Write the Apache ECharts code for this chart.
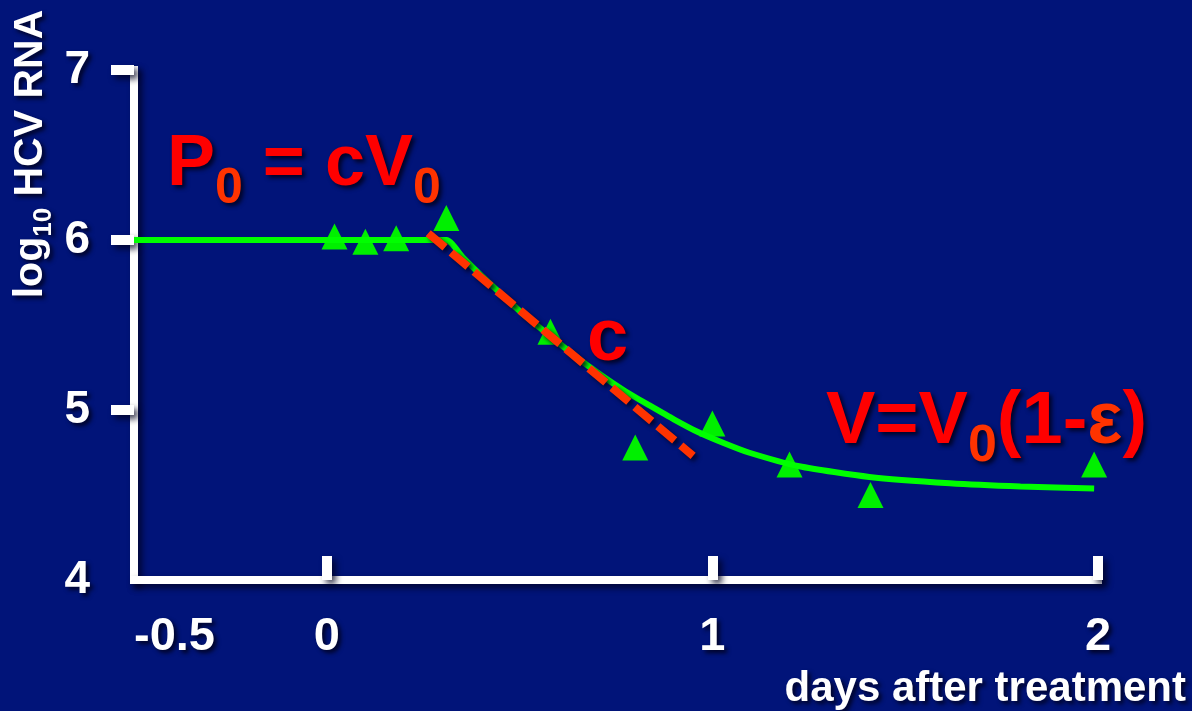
<!DOCTYPE html>
<html>
<head>
<meta charset="utf-8">
<script src="https://cdn.jsdelivr.net/npm/echarts@6/dist/echarts.min.js"></script>
<style>
  html, body { margin: 0; padding: 0; background: #011479; }
  #chart { width: 1192px; height: 711px; }
</style>
</head>
<body>
<div id="chart"></div>
<script>
// Measured viral load (log10 HCV RNA) against days after treatment start
const obsDays = [0.02, 0.10, 0.18, 0.31, 0.58, 0.80, 1.00, 1.20, 1.41, 1.99];
const obsLogV = [6.02, 5.99, 6.01, 6.13, 5.46, 4.78, 4.92, 4.68, 4.50, 4.68];

// Fitted model curve
const fitDays = [-0.5, 0.31, 0.352, 0.403, 0.454, 0.505, 0.577, 0.645, 0.709, 0.773, 0.837, 0.901, 0.964, 1.029, 1.094, 1.225, 1.407, 1.616, 1.799, 1.99];
const fitLogV = [6.00, 6.00, 5.90, 5.786, 5.679, 5.572, 5.439, 5.316, 5.209, 5.112, 5.027, 4.944, 4.869, 4.806, 4.75, 4.669, 4.606, 4.569, 4.55, 4.538];

// Initial first-phase decline (slope = clearance rate c)
const slopeDays = [0.263, 0.95];
const slopeLogV = [6.04, 4.73];

// Axis ticks and labels
const xLabelValues = [-0.5, 0, 1, 2];
const xTickValues = [0, 1, 2];
const yLabelValues = [4, 5, 6, 7];
const yTickValues = [5, 6, 7];

const FONT = "'Liberation Sans', Arial, Helvetica, sans-serif";
const RED = '#ff0000';
const ORANGE = '#ff3300';
const SHADOW = 'rgba(0, 0, 25, 0.85)';

const textShadow = {
  textShadowColor: SHADOW,
  textShadowBlur: 4,
  textShadowOffsetX: 3,
  textShadowOffsetY: 3
};
const lineShadow = {
  shadowColor: 'rgba(0, 0, 30, 0.75)',
  shadowBlur: 6,
  shadowOffsetX: 4,
  shadowOffsetY: 4
};

function richStyle(size, lineHeight, fill, extra) {
  return Object.assign({
    fontSize: size,
    lineHeight: lineHeight,
    fontWeight: 'bold',
    fontFamily: FONT,
    fill: fill
  }, textShadow, extra || {});
}

const chart = echarts.init(document.getElementById('chart'), null, { renderer: 'canvas' });

chart.setOption({
  backgroundColor: '#011479',
  animation: false,
  grid: { left: 134, right: 94, top: 70, bottom: 131, containLabel: false },
  xAxis: {
    type: 'value',
    min: -0.5,
    max: 2,
    interval: 0.5,
    z: 3,
    splitLine: { show: false },
    axisLine: {
      show: true,
      onZero: false,
      lineStyle: Object.assign({ color: '#ffffff', width: 8, cap: 'square' }, lineShadow)
    },
    axisTick: {
      show: true,
      inside: true,
      length: 24,
      customValues: xTickValues,
      lineStyle: Object.assign({ color: '#ffffff', width: 10 }, lineShadow)
    },
    axisLabel: Object.assign({
      customValues: xLabelValues,
      alignMinLabel: 'left',
      color: '#ffffff',
      fontSize: 47,
      fontWeight: 'bold',
      fontFamily: FONT,
      margin: 34,
      formatter: v => String(v)
    }, textShadow)
  },
  yAxis: {
    type: 'value',
    min: 4,
    max: 7,
    interval: 1,
    z: 3,
    splitLine: { show: false },
    axisLine: {
      show: true,
      onZero: false,
      lineStyle: Object.assign({ color: '#ffffff', width: 8, cap: 'square' }, lineShadow)
    },
    axisTick: {
      show: true,
      inside: false,
      length: 23,
      customValues: yTickValues,
      lineStyle: Object.assign({ color: '#ffffff', width: 10 }, lineShadow)
    },
    axisLabel: Object.assign({
      customValues: yLabelValues,
      color: '#ffffff',
      fontSize: 46,
      fontWeight: 'bold',
      fontFamily: FONT,
      margin: 44
    }, textShadow)
  },
  series: [
    {
      name: 'observed',
      type: 'scatter',
      z: 2,
      symbol: 'triangle',
      symbolSize: [26, 26],
      itemStyle: { color: '#00f000', opacity: 1 },
      data: obsDays.map((d, i) => [d, obsLogV[i]])
    },
    {
      name: 'model',
      type: 'line',
      z: 3,
      showSymbol: false,
      symbol: 'none',
      smooth: 0.2,
      lineStyle: { color: '#00ff00', width: 6 },
      data: fitDays.map((d, i) => [d, fitLogV[i]])
    },
    {
      name: 'slope c',
      type: 'line',
      z: 4,
      showSymbol: false,
      symbol: 'none',
      lineStyle: {
        color: ORANGE,
        width: 8,
        type: [22, 8],
        cap: 'butt',
        shadowColor: 'rgba(0,0,30,0.8)',
        shadowBlur: 4,
        shadowOffsetX: 3,
        shadowOffsetY: 3
      },
      data: slopeDays.map((d, i) => [d, slopeLogV[i]])
    }
  ],
  graphic: [
    {
      type: 'text',
      x: 31,
      y: 154,
      rotation: Math.PI / 2,
      style: {
        text: '{m|log}{s|10}{m| HCV RNA}',
        align: 'center',
        verticalAlign: 'middle',
        rich: {
          m: richStyle(41, 52, '#ffffff'),
          s: richStyle(26, 26, '#ffffff', { verticalAlign: 'bottom' })
        }
      }
    },
    {
      type: 'text',
      x: 1186,
      y: 689,
      style: Object.assign({
        text: 'days after treatment',
        align: 'right',
        verticalAlign: 'middle',
        fontSize: 42,
        fontWeight: 'bold',
        fontFamily: FONT,
        fill: '#ffffff'
      }, textShadow)
    },
    {
      type: 'text',
      x: 167,
      y: 165,
      style: {
        text: '{m|P}{s|0}{m| = cV}{s|0}',
        align: 'left',
        verticalAlign: 'middle',
        rich: {
          m: richStyle(72, 98, RED),
          s: richStyle(50, 50, ORANGE, { verticalAlign: 'bottom' })
        }
      }
    },
    {
      type: 'text',
      x: 587,
      y: 340,
      style: {
        text: '{m|c}',
        align: 'left',
        verticalAlign: 'middle',
        rich: { m: richStyle(74, 100, RED) }
      }
    },
    {
      type: 'text',
      x: 826,
      y: 423,
      style: {
        text: '{m|V=V}{s|0}{m|(1-}{e|ε}{m|)}',
        align: 'left',
        verticalAlign: 'middle',
        rich: {
          m: richStyle(74, 100, RED),
          e: richStyle(74, 100, ORANGE),
          s: richStyle(52, 52, ORANGE, { verticalAlign: 'bottom' })
        }
      }
    }
  ]
});
</script>
</body>
</html>
